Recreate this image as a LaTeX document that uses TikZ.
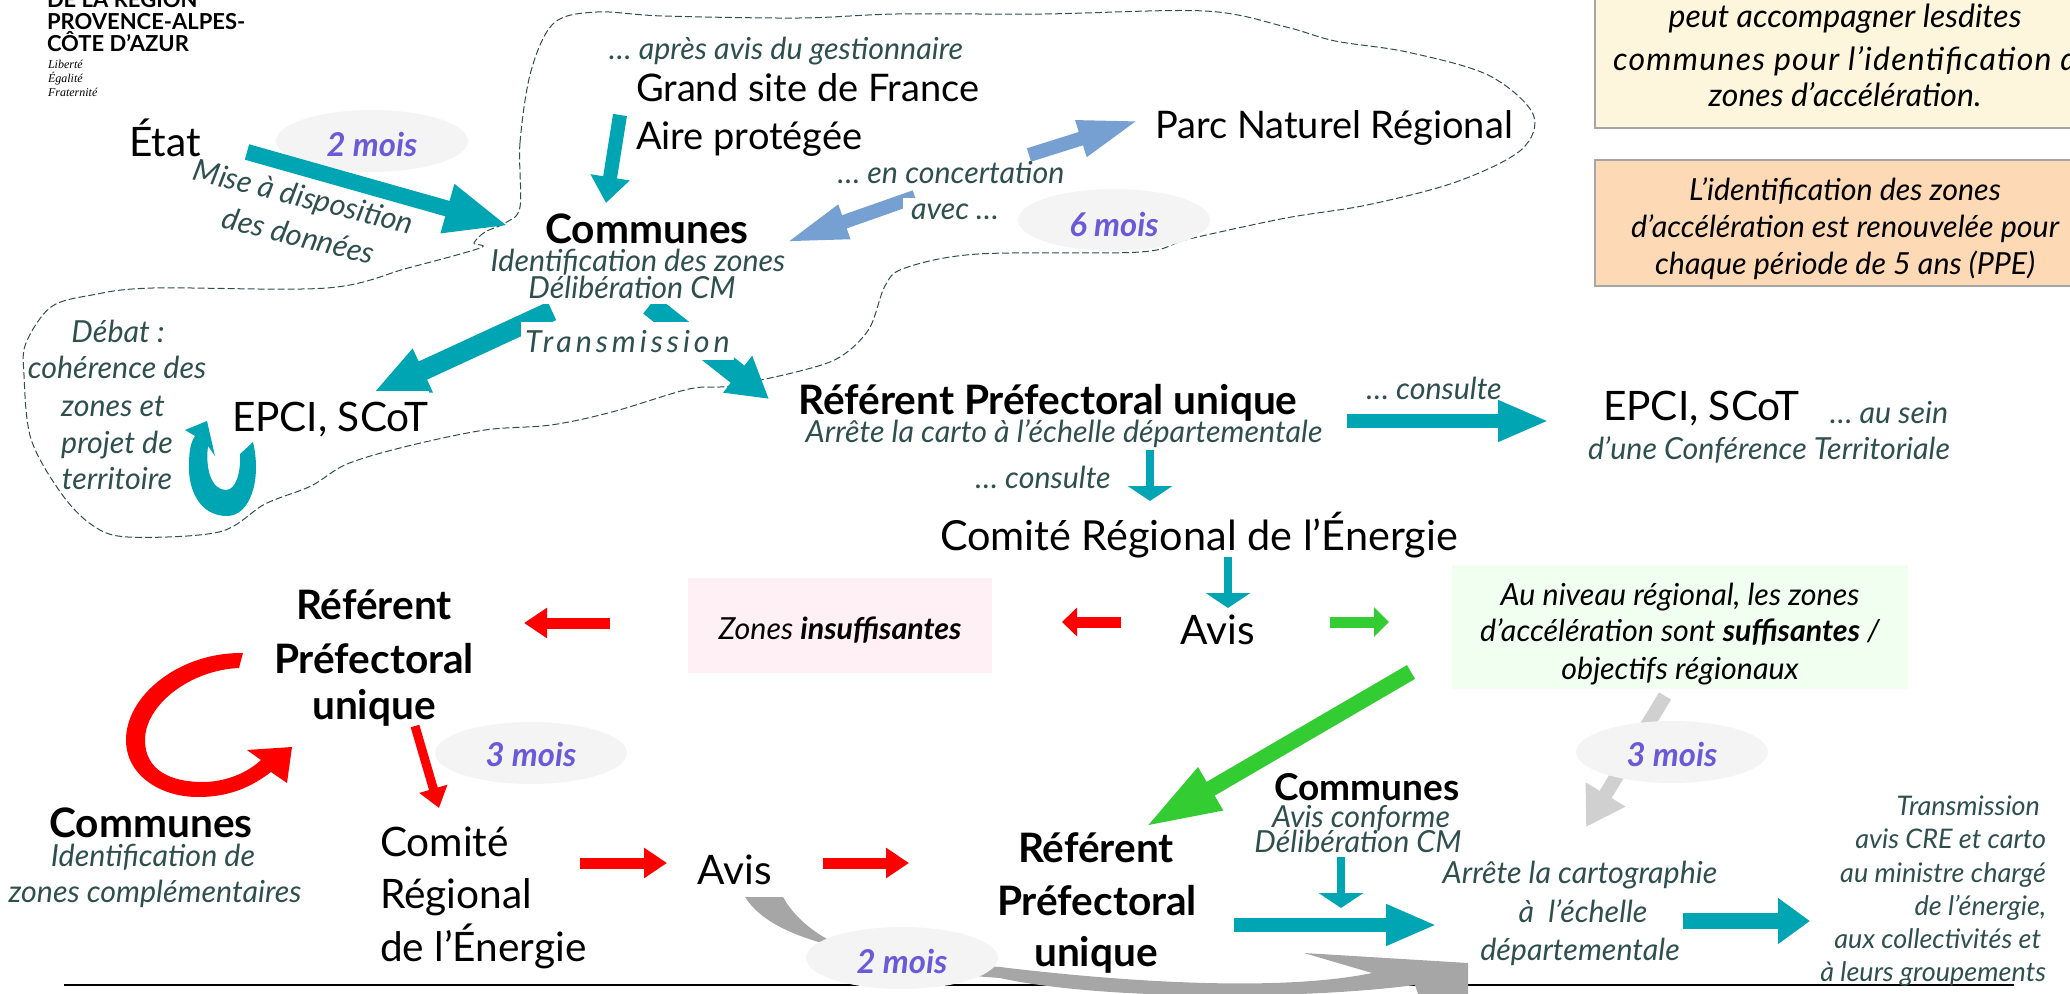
\documentclass[tikz,border=0pt]{standalone}
\usepackage{fontspec}
\setmainfont{Lato}
\newfontfamily\serifit{Liberation Serif}
\usetikzlibrary{arrows.meta,shapes.geometric}
\definecolor{teal2}{HTML}{00A5B3}
\definecolor{blue2}{HTML}{769FD2}
\definecolor{slate2}{HTML}{2F4F4F}
\definecolor{green2}{HTML}{33CC33}
\definecolor{grey2}{HTML}{A6A6A6}
\definecolor{grey3}{HTML}{D0D0D0}
\definecolor{purp}{HTML}{6A5AD8}
\definecolor{bub}{HTML}{F4F4F4}
\definecolor{pinkbox}{HTML}{FEF0F4}
\definecolor{greenbox}{HTML}{F0FFEF}
\definecolor{yellowbox}{HTML}{FEF6DC}
\definecolor{orangebox}{HTML}{FDD9B5}
\tikzset{
  every node/.style={inner sep=0pt,outer sep=0pt},
  big/.style={font=\fontsize{20.3}{24}\selectfont,text=black},
  bigm/.style={font=\fontsize{19}{22}\selectfont,text=black},
  bigb/.style={font=\fontsize{20.3}{24}\selectfont\bfseries,text=black},
  ita/.style={font=\fontsize{15.2}{18}\selectfont\itshape,text=slate2},
  itab/.style={font=\fontsize{15.2}{18}\selectfont\itshape,text=black},
  itay/.style={font=\fontsize{16}{19}\selectfont\itshape,text=black},
  itas/.style={font=\fontsize{13.5}{16}\selectfont\itshape,text=slate2},
  mois/.style={ellipse,fill=bub,minimum width=96pt,minimum height=31pt},
  moist/.style={font=\fontsize{16.4}{19}\selectfont\bfseries\itshape,text=purp,anchor=base},
  barrow/.style n args={4}{draw=#1,line width=#2pt,-{Triangle[length=#3pt,width=#4pt,sep=0pt]}},
  note/.style={draw=grey2,line width=0.7pt},
  logot/.style={anchor=base west,font=\fontsize{11}{13}\selectfont\bfseries},
  logos/.style={anchor=base west,font=\serifit\fontsize{6}{7}\selectfont\itshape}
}
\begin{document}
\begin{tikzpicture}[x=0.5pt,y=-0.5pt]
\useasboundingbox (0,0) rectangle (2070,994);
% named arrow ends
\foreach \n/\x/\y in {etatA/247/152,etatB/509/226,grandA/620/115,grandB/606/203,parcA/1029/155,parcB/1140/120,
 concA/915/197,concB/784/243,epciA/552/311,epciB/372/394,refA/650/305,refB/769/399,
 consA/1347/421,consB/1549/421,crA/1150/450,crB/1150/501,avA/1228/557,avB/1228/608,
 insA/1121/622,insB/1062/622,sufA/1330/622,sufB/1389/622,zinA/610/623,zinB/524/623,
 greenA/1411/672,greenB/1145/827,lgA/1665/696,lgB/1586/827,rdA/415/726,rdB/439/808,
 r1A/580/863,r1B/667/863,r2A/823/863,r2B/909/863,t1A/1234/925,t1B/1437/925,
 t2A/1341/857,t2B/1341/908,t3A/1683/921,t3B/1810/921}
 {\coordinate (\n) at (\x,\y);}
% boxes
\fill[pinkbox] (688,578) rectangle (992,673);
\fill[greenbox] (1452,565) rectangle (1908,689);
\filldraw[fill=yellowbox,note] (1595,-10) rectangle (2080,128);
\filldraw[fill=orangebox,note] (1595,160) rectangle (2080,286);
% dashed territory outline
\draw[slate2,line width=0.5pt,dash pattern=on 3.5pt off 1.5pt]
 plot[smooth cycle,tension=0.55] coordinates {(520,207)(520,143)(531,71)(554,23)(597,12)(663,16)(800,18)(897,14)(1043,14)(1205,11)(1286,27)(1335,41)(1407,52)(1488,75)(1533,114)(1521,150)(1456,182)(1367,205)(1286,218)(1189,239)(1140,252)(978,254)(905,268)(885,286)(869,329)(840,357)(800,371)(730,386)(689,389)(612,412)(551,425)(485,430)(408,446)(347,464)(311,486)(265,504)(219,532)(128,537)(92,525)(61,493)(31,439)(24,375)(26,343)(51,307)(92,295)(153,288)(327,288)(408,268)(480,248)(474,243)(485,232)(505,223)};
% bottom rule
\draw[black,line width=1pt] (64,985) -- (2014,985);
% first bubble under its arrow
\node[mois] (m2a) at (372,141) {};
% arrows
\draw[barrow={teal2}{8}{32}{23}] (etatA) -- (etatB);
\draw[barrow={teal2}{7}{13}{19}] (grandA) -- (grandB);
\draw[barrow={blue2}{7}{31}{17}] (parcA) -- (parcB);
\draw[barrow={blue2}{7}{32}{16}] (concA) -- (concB);
\draw[barrow={teal2}{10}{28}{22}] (epciA) -- (epciB);
\draw[barrow={teal2}{11}{20}{22}] (refA) -- (refB);
\draw[barrow={teal2}{7}{25.5}{19}] (consA) -- (consB);
\draw[barrow={teal2}{4}{7.5}{22}] (crA) -- (crB);
\draw[barrow={teal2}{4}{7.5}{22}] (avA) -- (avB);
\draw[barrow={red}{5.5}{7.5}{14}] (insA) -- (insB);
\draw[barrow={green2}{5.5}{7.5}{14.5}] (sufA) -- (sufB);
\draw[barrow={red}{5.5}{11.5}{14.5}] (zinA) -- (zinB);
\draw[barrow={green2}{8}{38}{22.5}] (greenA) -- (greenB);
\draw[barrow={grey3}{7}{19}{22}] (lgA) -- (lgB);
\draw[barrow={red}{4.5}{10}{14}] (rdA) -- (rdB);
\draw[barrow={red}{5.5}{11.5}{14.5}] (r1A) -- (r1B);
\draw[barrow={red}{5.5}{11.5}{14.5}] (r2A) -- (r2B);
\draw[barrow={teal2}{7}{25.5}{19}] (t1A) -- (t1B);
\draw[barrow={teal2}{4}{7.5}{22}] (t2A) -- (t2B);
\draw[barrow={teal2}{8}{16}{22}] (t3A) -- (t3B);
% curved block arrows
\fill[teal2] (253,442) .. controls (262,480) and (250,516) .. (227,516) .. controls (200,516) and (188,490) .. (189,465) .. controls (189,450) and (191,442) .. (195,436) -- (185,430) -- (207,421) -- (215,456) -- (208,446) .. controls (205,470) and (212,490) .. (226,490) .. controls (236,490) and (241,472) .. (240,454) -- cycle;
\fill[red] (243,653) .. controls (180,652) and (126,695) .. (126,740) .. controls (126,775) and (160,797) .. (198,797) .. controls (228,797) and (250,788) .. (271,772) -- (287,783) -- (292,747) -- (247,750) -- (261,760) .. controls (245,775) and (222,782) .. (203,782) .. controls (170,782) and (145,770) .. (145,740) .. controls (145,705) and (190,670) .. (239,668) -- cycle;
\fill[grey2] (745,897) .. controls (775,945) and (880,960) .. (1000,967) .. controls (1150,985) and (1290,990) .. (1372,973) -- (1304,953) -- (1468,963) -- (1468,1000) -- (1420,1000) -- (1415,985) .. controls (1300,1000) and (1100,1000) .. (1000,978) .. controls (880,970) and (810,945) .. (783,897) -- cycle;
% bubbles
\node[mois] (m6) at (1114,220) {};
\node[mois] (m3a) at (531,753) {};
\node[mois] (m3b) at (1672,752) {};
\node[mois] (m2b) at (902,958) {};
\node[moist] (t2a) at (372,157) {2 mois};
\node[moist] (t6) at (1114,237) {6 mois};
\node[moist] (t3a) at (531,766) {3 mois};
\node[moist] (t3b) at (1672,766) {3 mois};
\node[moist] (t2b) at (902,973) {2 mois};
% logo
\node[logot] (l1) at (47,8) {DE LA RÉGION};
\node[logot] (l2) at (47,30) {PROVENCE-ALPES-};
\node[logot] (l3) at (47,52) {CÔTE D'AZUR};
\node[logos] (l4) at (48,69) {Liberté};
\node[logos] (l5) at (48,83) {Égalité};
\node[logos] (l6) at (48,97) {Fraternité};
% big text
\node[big,anchor=base west] (etat) at (129,157) {État};
\node[bigm,anchor=base west] (gs) at (636,102) {Grand site de France};
\node[bigm,anchor=base west] (ap) at (636,150) {Aire protégée};
\node[bigm,anchor=base west] (pnr) at (1155,139) {Parc Naturel Régional};
\node[big,anchor=base west,fill=white,text height=20pt,text depth=5pt] (epci1) at (232,431) {EPCI, SCoT};
\node[big,anchor=base west] (epci2) at (1603,420) {EPCI, SCoT};
\node[big,anchor=base west,font=\fontsize{20.7}{24}\selectfont] (cre) at (940,550) {Comité Régional de l’Énergie};
\node[big,anchor=base] (avis1) at (1218,644) {Avis};
\node[big,anchor=base west] (c1) at (380,856) {Comité};
\node[big,anchor=base west] (c2) at (380,908) {Régional};
\node[big,anchor=base west] (c3) at (380,961) {de l’Énergie};
\node[big,anchor=base] (avis2) at (735,884) {Avis};
% bold text
\node[ita,anchor=base,fill=white,text height=11pt,text depth=3pt,inner xsep=2pt] (idz) at (638,272) {Identification des zones};
\node[ita,anchor=base,fill=white,text height=11pt,text depth=2.5pt,inner xsep=2pt] (dcm) at (632,299) {Délibération CM};
\node[bigb,anchor=base] (com1) at (647,244) {Communes};
\node[bigb,anchor=base] (rpu1) at (1048,414) {Référent Préfectoral unique};
\node[bigb,anchor=base] (r1) at (374,619) {Référent};
\node[bigb,anchor=base] (r2) at (374,673) {Préfectoral};
\node[bigb,anchor=base] (r3) at (374,719) {unique};
\node[bigb,anchor=base] (com2) at (151,837) {Communes};
\node[bigb,anchor=base,font=\fontsize{18.5}{22}\selectfont\bfseries] (com3) at (1367,800) {Communes};
\node[bigb,anchor=base] (r4) at (1096,862) {Référent};
\node[bigb,anchor=base] (r5) at (1097,915) {Préfectoral};
\node[bigb,anchor=base] (r6) at (1096,966) {unique};
% italic text
\node[ita,anchor=base] (apres) at (786,60) {… après avis du gestionnaire};
\node[ita,anchor=base,rotate=-14] (mise) at (301,207) {Mise à disposition};
\node[ita,anchor=base,rotate=-14] (donn) at (296,246) {des données};
\node[ita,anchor=base west,fill=white,text height=15pt,text depth=4pt,inner xsep=2pt] (trans) at (521,352) {\addfontfeature{LetterSpace=13}Transmission};
\node[ita,anchor=base] (deb) at (118,343) {Débat :};
\node[ita,anchor=base] (d2) at (117,379) {cohérence des};
\node[ita,anchor=base] (d3) at (113,416) {zones et};
\node[ita,anchor=base] (d4) at (117,453) {projet de};
\node[ita,anchor=base] (d5) at (117,489) {territoire};
\node[ita,anchor=base,fill=white,text height=11pt,text depth=3pt,inner xsep=2pt] (conc) at (951,184) {… en concertation};
\node[ita,anchor=base,fill=white,text height=11pt,text depth=3pt,inner xsep=4pt] (avec) at (955,220) {avec …};
\node[ita,anchor=base] (arr) at (1064,442) {Arrête la carto à l’échelle départementale};
\node[ita,anchor=base] (co1) at (1434,400) {… consulte};
\node[ita,anchor=base] (co2) at (1043,488) {… consulte};
\node[ita,anchor=base] (sein) at (1889,423) {… au sein};
\node[ita,anchor=base] (conf) at (1769,459) {d’une Conférence Territoriale};
\node[itay,anchor=base] (y1) at (1845,28) {peut accompagner lesdites};
\node[itay,anchor=base west] (y2) at (1613,71) {\addfontfeature{LetterSpace=4}communes pour l’identification des};
\node[itay,anchor=base] (y3) at (1845,107) {zones d’accélération.};
\node[itab,anchor=base] (o1) at (1845,201) {L’identification des zones};
\node[itab,anchor=base] (o2) at (1845,238) {d’accélération est renouvelée pour};
\node[itab,anchor=base] (o3) at (1845,275) {chaque période de 5 ans (PPE)};
\node[itab,anchor=base] (zi) at (840,639) {Zones {\bfseries insuffisantes}};
\node[itab,anchor=base] (g1) at (1680,605) {Au niveau régional, les zones};
\node[itab,anchor=base] (g2) at (1680,641) {d’accélération sont {\bfseries suffisantes} /};
\node[itab,anchor=base] (g3) at (1680,679) {objectifs régionaux};
\node[ita,anchor=base] (idc) at (153,866) {Identification de};
\node[ita,anchor=base] (zc) at (155,902) {zones complémentaires};
\node[ita,anchor=base] (ac) at (1361,827) {Avis conforme};
\node[ita,anchor=base] (dcm2) at (1358,852) {Délibération CM};
\node[ita,anchor=base] (a1) at (1580,883) {Arrête la cartographie};
\node[ita,anchor=base] (a2) at (1583,922) {à\ \ l’échelle};
\node[ita,anchor=base] (a3) at (1580,960) {départementale};
\node[itas,anchor=base east] (tr1) at (2040,815) {Transmission};
\node[itas,anchor=base east] (tr2) at (2046,848) {avis CRE et carto};
\node[itas,anchor=base east] (tr3) at (2046,882) {au ministre chargé};
\node[itas,anchor=base east] (tr4) at (2046,915) {de l’énergie,};
\node[itas,anchor=base east] (tr5) at (2041,948) {aux collectivités et};
\node[itas,anchor=base east] (tr6) at (2046,981) {à leurs groupements};
\end{tikzpicture}
\end{document}
